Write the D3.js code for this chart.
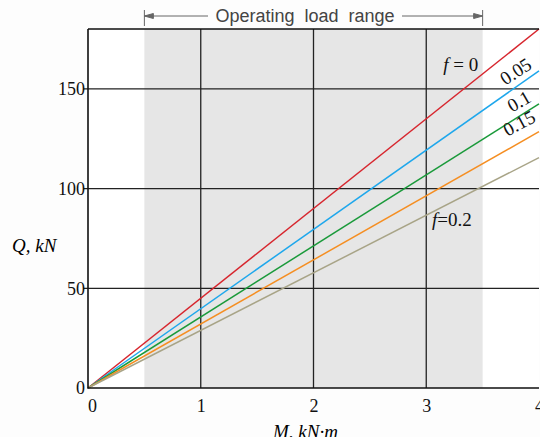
<!DOCTYPE html>
<html>
<head>
<meta charset="utf-8">
<script src="https://cdn.jsdelivr.net/npm/d3@7"></script>
<style>
  body { margin: 0; background: #fdfdfd; }
  svg { display: block; }
  .serif { font-family: "Liberation Serif", "Times New Roman", serif; }
</style>
</head>
<body>
<div id="chart"></div>
<script>
// friction coefficients and Q at M = 4 kN·m (lines start at the origin)
var frictions = [0, 0.05, 0.1, 0.15, 0.2];
var qAtMax = [180, 159, 142.5, 128.5, 115.5];
var lineColors = ['#d7262e', '#1ea7ec', '#1a9a3a', '#f58e22', '#a8a487'];
var lineLabels = ['f = 0', '0.05', '0.1', '0.15', 'f=0.2'];
var xTicks = [0, 1, 2, 3, 4];
var yTicks = [0, 50, 100, 150];
var bandRange = [0.5, 3.5];

var margin = { top: 29, right: 1, bottom: 49, left: 88 };
var width = 540 - margin.left - margin.right,
    height = 437 - margin.top - margin.bottom;

var svg = d3.select('#chart')
    .append('svg')
    .attr('width', 540)
    .attr('height', 437);

var g = svg.append('g')
    .attr('transform', 'translate(' + margin.left + ',' + margin.top + ')');

var xS = d3.scaleLinear().domain([0, 4]).range([0, width]);
var yS = d3.scaleLinear().domain([0, 180]).range([height, 0]);

// plot background + operating band
g.append('rect')
    .attr('width', width).attr('height', height)
    .style('fill', '#ffffff');
g.append('rect')
    .attr('x', xS(bandRange[0]))
    .attr('width', xS(bandRange[1]) - xS(bandRange[0]))
    .attr('height', height)
    .style('fill', '#e6e6e6');

// grid
g.selectAll('.vgrid')
    .data(xTicks.slice(1, 4))
    .enter().append('line')
    .attr('x1', function (d) { return xS(d); })
    .attr('x2', function (d) { return xS(d); })
    .attr('y1', 0).attr('y2', height)
    .style('stroke', '#222').style('stroke-width', 1.3);
g.selectAll('.hgrid')
    .data(yTicks.slice(1))
    .enter().append('line')
    .attr('x1', -5).attr('x2', width)
    .attr('y1', function (d) { return yS(d); })
    .attr('y2', function (d) { return yS(d); })
    .style('stroke', '#222').style('stroke-width', 1.3);

// lines
var line = d3.line()
    .x(function (d) { return xS(d[0]); })
    .y(function (d) { return yS(d[1]); });
g.selectAll('.fline')
    .data(qAtMax)
    .enter().append('path')
    .attr('d', function (d) { return line([[0, 0], [4, d]]); })
    .style('fill', 'none')
    .style('stroke', function (d, i) { return lineColors[i]; })
    .style('stroke-width', 1.5);

// frame
g.append('path')
    .attr('d', 'M0,0H' + width + 'M0,0V' + height + 'H' + width)
    .style('fill', 'none').style('stroke', '#111').style('stroke-width', 1.6);

// axes tick labels
var xAxis = g.append('g')
    .attr('transform', 'translate(0,' + height + ')')
    .call(d3.axisBottom(xS).tickValues(xTicks).tickSize(0).tickPadding(11).tickFormat(d3.format('d')))
    .attr('font-family', null).attr('font-size', null);
xAxis.select('.domain').remove();
xAxis.selectAll('text').attr('class', 'serif').style('font-size', '18px').style('fill', '#111')
    .attr('dx', function (d) { return d === 0 ? 4 : 0; });

var yAxis = g.append('g')
    .call(d3.axisLeft(yS).tickValues(yTicks).tickSize(0).tickPadding(3).tickFormat(d3.format('d')))
    .attr('font-family', null).attr('font-size', null);
yAxis.select('.domain').remove();
yAxis.selectAll('text').attr('class', 'serif').style('font-size', '18px').style('fill', '#111');

// axis titles
svg.append('text').attr('class', 'serif')
    .attr('x', 12).attr('y', 252)
    .style('font-size', '19px').style('font-style', 'italic')
    .text('Q, kN');
svg.append('text').attr('class', 'serif')
    .attr('x', margin.left + xS(2) - 8).attr('y', 438)
    .attr('text-anchor', 'middle')
    .style('font-size', '19px').style('font-style', 'italic')
    .text('M, kN·m');

// line labels
var labelPos = [[3.15, 159, 0], [3.70, 151.5, -33], [3.76, 138, -30], [3.72, 126, -28], [3.05, 81, 0]];
g.selectAll('.flabel')
    .data(lineLabels)
    .enter().append('text').attr('class', 'serif')
    .attr('transform', function (d, i) {
        return 'translate(' + xS(labelPos[i][0]) + ',' + yS(labelPos[i][1]) + ') rotate(' + labelPos[i][2] + ')';
    })
    .style('font-size', '19px').style('fill', '#111')
    .each(function (d) {
        var t = d3.select(this);
        if (d.charAt(0) === 'f') {
            t.append('tspan').style('font-style', 'italic').text('f');
            t.append('tspan').text(d.slice(1));
        } else {
            t.text(d);
        }
    });

// operating load range annotation
var ann = svg.append('g').style('stroke', '#666').style('stroke-width', 1);
var ax0 = margin.left + xS(bandRange[0]), ax1 = margin.left + xS(bandRange[1]);
ann.append('line').attr('x1', ax0).attr('x2', ax0).attr('y1', 10).attr('y2', 26);
ann.append('line').attr('x1', ax1).attr('x2', ax1).attr('y1', 10).attr('y2', 26);
ann.append('line').attr('x1', ax0).attr('x2', 208).attr('y1', 16).attr('y2', 16);
ann.append('line').attr('x1', 402).attr('x2', ax1).attr('y1', 16).attr('y2', 16);
ann.append('path').attr('d', 'M' + ax0 + ',16l9,-2.5v5z').style('fill', '#666');
ann.append('path').attr('d', 'M' + ax1 + ',16l-9,-2.5v5z').style('fill', '#666');
svg.append('text')
    .attr('x', 305).attr('y', 22)
    .attr('text-anchor', 'middle')
    .style('font-family', '"Liberation Sans", Arial, sans-serif')
    .style('font-size', '18px').style('fill', '#444')
    .style('word-spacing', '5px')
    .text('Operating load range');
</script>
</body>
</html>
